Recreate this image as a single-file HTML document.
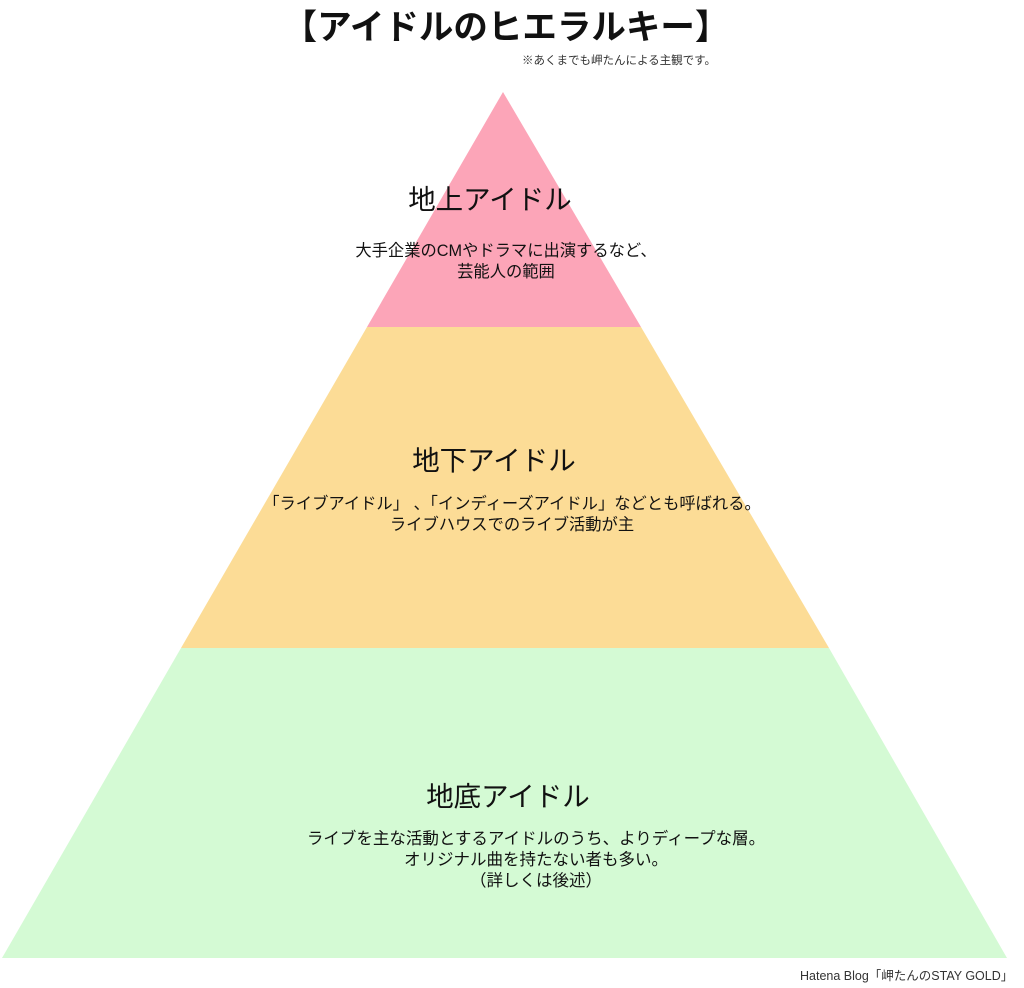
<!DOCTYPE html>
<html><head><meta charset="utf-8"><style>
html,body{margin:0;padding:0;background:#fff;width:1024px;height:988px;overflow:hidden;position:relative;font-family:"Liberation Sans","Noto Sans CJK JP",sans-serif;color:#111}
.t{position:absolute;white-space:nowrap;text-align:center}
</style></head><body>
<svg width="1024" height="988" style="position:absolute;left:0;top:0">
<polygon points="503,92 641,327 367,327" fill="#FCA5B8"/>
<polygon points="367,327 641,327 829,648 181,648" fill="#FCDC96"/>
<polygon points="181,648 829,648 1007,958 2,958" fill="#D4FAD4"/>
</svg>
<div class="t" style="left:0;width:1012px;top:7px;font-size:34.5px;font-weight:bold;line-height:42px">【アイドルのヒエラルキー】</div>
<div class="t" style="left:522px;top:52px;font-size:11.5px;color:#333">※あくまでも岬たんによる主観です。</div>
<div class="t" style="left:290px;width:400px;top:177px;font-size:27.5px">地上アイドル</div>
<div class="t" style="left:300px;width:412px;top:241px;font-size:16.3px;line-height:21px">大手企業のCMやドラマに出演するなど、<br>芸能人の範囲</div>
<div class="t" style="left:294px;width:400px;top:438px;font-size:27.5px">地下アイドル</div>
<div class="t" style="left:200px;width:624px;top:494px;font-size:16.3px;line-height:21px">「ライブアイドル」&nbsp;、「インディーズアイドル」などとも呼ばれる。<br>ライブハウスでのライブ活動が主</div>
<div class="t" style="left:308px;width:400px;top:774px;font-size:27.5px">地底アイドル</div>
<div class="t" style="left:256px;width:560px;top:829px;font-size:16.5px;line-height:21px">ライブを主な活動とするアイドルのうち、よりディープな層。<br>オリジナル曲を持たない者も多い。<br>（詳しくは後述）</div>
<div class="t" style="left:800px;top:965px;font-size:12.5px;color:#333">Hatena Blog「岬たんのSTAY GOLD」</div>
</body></html>
